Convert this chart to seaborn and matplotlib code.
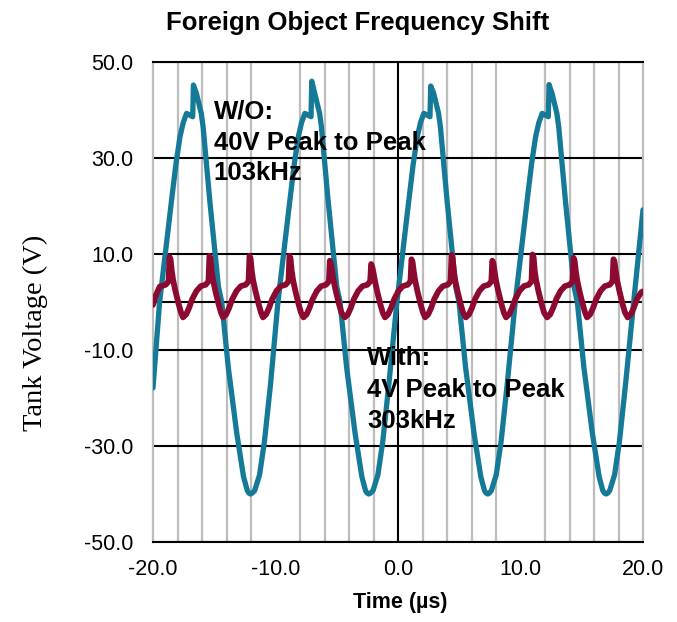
import matplotlib
matplotlib.use("Agg")
import matplotlib.pyplot as plt
import seaborn as sns
import pandas as pd

# ---- data ----
blue_t = [-20.0, -19.46, -18.48, -18.14, -17.80, -17.53, -17.26, -16.76, -16.70, -16.46, -16.06, -15.91, -15.36,
          -14.66, -14.39, -13.86, -13.16, -12.61, -12.30, -12.18, -12.04, -11.90,
          -11.70, -11.30, -10.90, -10.40, -9.80, -8.82, -8.48, -8.14, -7.87, -7.60, -7.10, -7.04, -6.80, -6.40,
          -6.25, -5.70, -5.00, -4.73, -4.20, -3.50, -2.95, -2.65, -2.52, -2.38, -2.24,
          -2.04, -1.64, -1.24, -0.74, -0.09, 0.89, 1.23, 1.57, 1.84, 2.11, 2.61, 2.67, 2.91, 3.31, 3.46, 4.01,
          4.71, 4.98, 5.51, 6.21, 6.76, 7.06, 7.19, 7.33, 7.47,
          7.62, 8.02, 8.42, 8.92, 9.57, 10.55, 10.89, 11.23, 11.50, 11.77, 12.27, 12.33, 12.57, 12.97, 13.12, 13.67,
          14.37, 14.64, 15.17, 15.87, 16.42, 16.72, 16.85, 16.99, 17.13,
          17.28, 17.68, 18.08, 18.58, 19.24, 20.0]
blue_v = [-17.9, 0.0, 21.3, 28.5, 34.4, 37.4, 39.3, 38.6, 45.2, 43.5, 39.3, 36.5, 21.0,
          3.2, 0.0, -13.5, -27.4, -36.4, -39.3, -39.8, -40.0, -39.8,
          -39.3, -36.0, -29.0, -17.0, 0.0, 21.3, 28.5, 34.4, 37.4, 39.3, 38.6, 46.0, 43.5, 39.3,
          36.5, 21.0, 3.2, 0.0, -13.5, -27.4, -36.4, -39.3, -39.8, -40.0, -39.8,
          -39.3, -36.0, -29.0, -17.0, 0.0, 21.3, 28.5, 34.4, 37.4, 39.3, 38.6, 45.0, 43.5, 39.3, 36.5, 21.0,
          3.2, 0.0, -13.5, -27.4, -36.4, -39.3, -39.8, -40.0, -39.8,
          -39.3, -36.0, -29.0, -17.0, 0.0, 21.3, 28.5, 34.4, 37.4, 39.3, 38.6, 45.3, 43.5, 39.3, 36.5, 21.0,
          3.2, 0.0, -13.5, -27.4, -36.4, -39.3, -39.8, -40.0, -39.8,
          -39.3, -36.0, -29.0, -17.0, 0.0, 19.2]

red_t = [-20.0, -19.75, -19.45, -18.96, -18.73, -18.65, -18.56, -18.47, -18.36, -18.16, -17.91, -17.71,
         -17.55, -17.30, -17.05, -16.80, -16.45, -16.10, -15.70, -15.47, -15.39, -15.30, -15.21, -15.10, -14.90, -14.65, -14.45,
         -14.28, -14.03, -13.78, -13.53, -13.18, -12.83, -12.43, -12.20, -12.12, -12.03, -11.94, -11.83, -11.63, -11.38, -11.18,
         -11.02, -10.77, -10.52, -10.27, -9.92, -9.57, -9.17, -8.94, -8.86, -8.77, -8.68, -8.57, -8.37, -8.12, -7.92,
         -7.72, -7.47, -7.22, -6.97, -6.62, -6.27, -5.87, -5.64, -5.56, -5.47, -5.38, -5.27, -5.07, -4.82, -4.62,
         -4.35, -4.10, -3.85, -3.60, -3.25, -2.90, -2.50, -2.27, -2.19, -2.10, -2.01, -1.90, -1.70, -1.45, -1.25,
         -1.06, -0.81, -0.56, -0.31, 0.04, 0.39, 0.79, 1.02, 1.10, 1.19, 1.28, 1.39, 1.59, 1.84, 2.04,
         2.21, 2.46, 2.71, 2.96, 3.31, 3.66, 4.06, 4.29, 4.37, 4.46, 4.55, 4.66, 4.86, 5.11, 5.31,
         5.54, 5.79, 6.04, 6.29, 6.64, 6.99, 7.39, 7.62, 7.70, 7.79, 7.88, 7.99, 8.19, 8.44, 8.64,
         8.82, 9.07, 9.32, 9.57, 9.92, 10.27, 10.67, 10.90, 10.98, 11.07, 11.16, 11.27, 11.47, 11.72, 11.92,
         12.17, 12.42, 12.67, 12.92, 13.27, 13.62, 14.02, 14.25, 14.33, 14.42, 14.51, 14.62, 14.82, 15.07, 15.27,
         15.43, 15.68, 15.93, 16.18, 16.53, 16.88, 17.28, 17.51, 17.59, 17.68, 17.77, 17.88, 18.08, 18.33, 18.53,
         18.75, 19.00, 19.25, 19.50, 19.85, 20.0]
red_v = [-0.6, 1.5, 3.2, 3.6, 4.3, 9.4, 8.8, 6.5, 4.6, 2.2, -0.4, -2.2,
         -3.2, -2.6, -1.2, 0.6, 2.3, 3.3, 3.6, 4.3, 9.6, 9.0, 6.5, 4.6, 2.2, -0.4, -2.2,
         -3.2, -2.6, -1.2, 0.6, 2.3, 3.3, 3.6, 4.3, 9.6, 9.0, 6.5, 4.6, 2.2, -0.4, -2.2,
         -3.2, -2.6, -1.2, 0.6, 2.3, 3.3, 3.6, 4.3, 9.6, 9.0, 6.5, 4.6, 2.2, -0.4, -2.2,
         -3.2, -2.6, -1.2, 0.6, 2.3, 3.3, 3.6, 4.3, 8.6, 8.0, 6.5, 4.6, 2.2, -0.4, -2.2,
         -3.2, -2.6, -1.2, 0.6, 2.3, 3.3, 3.6, 4.3, 7.9, 7.3, 6.2, 4.6, 2.2, -0.4, -2.2,
         -3.2, -2.6, -1.2, 0.6, 2.3, 3.3, 3.6, 4.3, 8.9, 8.3, 6.5, 4.6, 2.2, -0.4, -2.2,
         -3.2, -2.6, -1.2, 0.6, 2.3, 3.3, 3.6, 4.3, 9.8, 9.2, 6.5, 4.6, 2.2, -0.4, -2.2,
         -3.2, -2.6, -1.2, 0.6, 2.3, 3.3, 3.6, 4.3, 8.6, 8.0, 6.5, 4.6, 2.2, -0.4, -2.2,
         -3.2, -2.6, -1.2, 0.6, 2.3, 3.3, 3.6, 4.3, 9.9, 9.3, 6.5, 4.6, 2.2, -0.4, -2.2,
         -3.2, -2.6, -1.2, 0.6, 2.3, 3.3, 3.6, 4.3, 9.2, 8.6, 6.5, 4.6, 2.2, -0.4, -2.2,
         -3.2, -2.6, -1.2, 0.6, 2.3, 3.3, 3.6, 4.3, 8.9, 8.3, 6.5, 4.6, 2.2, -0.4, -2.2,
         -3.2, -2.6, -1.2, 0.6, 2.0, 2.2]

x_ticks = [-20, -10, 0, 10, 20]
x_tick_labels = ["-20.0", "-10.0", "0.0", "10.0", "20.0"]
y_ticks = [-50, -30, -10, 10, 30, 50]
y_tick_labels = ["-50.0", "-30.0", "-10.0", "10.0", "30.0", "50.0"]
x_minor = list(range(-20, 21, 2))

title = "Foreign Object Frequency Shift"
xlabel = "Time (\u00b5s)"
ylabel = "Tank Voltage (V)"
note_wo = ["W/O:", "40V Peak to Peak", "103kHz"]
note_with = ["With:", "4V Peak to Peak", "303kHz"]

# ---- plotting ----
sns.set_theme(style="white")
plt.rcParams["font.family"] = ["Liberation Sans", "DejaVu Sans"]

W, H = 677, 622
fig = plt.figure(figsize=(W / 100, H / 100), dpi=100)
ax = fig.add_axes([153 / W, 1 - 542 / H, (643 - 153) / W, (542 - 62) / H])

df_blue = pd.DataFrame({"t": blue_t, "v": blue_v})
df_red = pd.DataFrame({"t": red_t, "v": red_v})
sns.lineplot(data=df_blue, x="t", y="v", ax=ax, color="#147A98", lw=3.8,
             estimator=None, sort=False, zorder=3)
sns.lineplot(data=df_red, x="t", y="v", ax=ax, color="#8C0A30", lw=4.2,
             estimator=None, sort=False, zorder=4)
for l in ax.lines:
    l.set_solid_joinstyle("round")
    l.set_solid_capstyle("round")

ax.set_xlim(-20, 20)
ax.set_ylim(-50, 50)
ax.set_xticks(x_ticks)
ax.set_xticklabels(x_tick_labels)
ax.set_xticks(x_minor, minor=True)
ax.set_yticks(y_ticks)
ax.set_yticklabels(y_tick_labels)
ax.tick_params(axis="both", which="both", length=0, labelsize=15.5, colors="black")
ax.tick_params(axis="x", pad=12)
ax.tick_params(axis="y", pad=14)

ax.set_axisbelow(True)
ax.grid(True, axis="x", which="minor", color="#BDBDBD", lw=1.6)
ax.grid(False, axis="x", which="major")
ax.grid(True, axis="y", which="major", color="black", lw=1.5)
ax.axvline(0, color="black", lw=1.5, zorder=2)
ax.axhline(0, color="black", lw=1.5, zorder=2)

for s in ["left", "right"]:
    ax.spines[s].set_color("#BDBDBD")
    ax.spines[s].set_linewidth(1.6)
for s in ["top", "bottom"]:
    ax.spines[s].set_color("black")
    ax.spines[s].set_linewidth(1.5)

ax.set_xlabel("")
ax.set_ylabel("")

fig.text(358 / W, 1 - 30 / H, title, ha="center", va="baseline",
         fontsize=18.5, fontweight="bold", color="black")
fig.text(400 / W, 1 - 608 / H, xlabel, ha="center", va="baseline",
         fontsize=15.5, fontweight="bold", color="black")
fig.text(35 / W, 1 - 333 / H, ylabel, ha="center", va="center", rotation=90,
         fontsize=20.5, family=["Liberation Serif", "DejaVu Serif"], color="black")

for (yv, txt) in zip([38.3, 31.7, 25.4], note_wo):
    ax.text(-15.05, yv, txt, fontsize=18.5, fontweight="bold", color="black",
            ha="left", va="baseline", zorder=5)
for (yv, txt) in zip([-13.1, -19.8, -26.25], note_with):
    ax.text(-2.5, yv, txt, fontsize=18.5, fontweight="bold", color="black",
            ha="left", va="baseline", zorder=5)

fig.savefig("out.png", dpi=100, facecolor="white")
